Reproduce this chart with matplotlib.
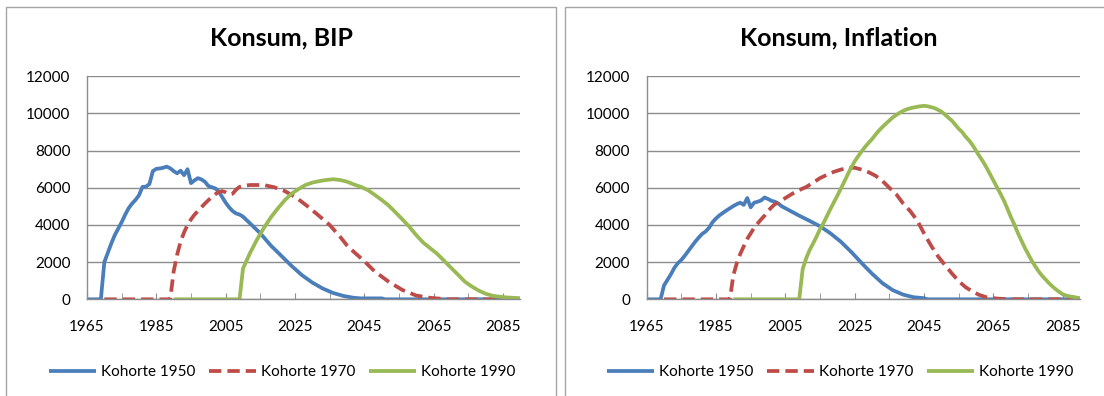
import matplotlib.pyplot as plt
from matplotlib.patches import Rectangle

# Data
# -- Konsum, BIP
bip_1950_years = [1965, 1969, 1970, 1971, 1972, 1973, 1974, 1975, 1976, 1977, 1978, 1979, 1980, 1981, 1982,
                  1983, 1984, 1985, 1986, 1987, 1988, 1989, 1990, 1991, 1992, 1993, 1994, 1995, 1996, 1997,
                  1998, 1999, 2000, 2001, 2002, 2003, 2004, 2005, 2006, 2007, 2008, 2009, 2010, 2012, 2015,
                  2018, 2021, 2024, 2027, 2030, 2033, 2036, 2039, 2042, 2044, 2050, 2051, 2090]
bip_1950 = [0, 0, 2000, 2500, 3000, 3450, 3800, 4150, 4550, 4900, 5150, 5350, 5600, 6050, 6060,
            6200, 6900, 7020, 7040, 7080, 7140, 7050, 6900, 6780, 6920, 6680, 7000, 6250, 6400, 6520,
            6450, 6330, 6100, 6030, 5970, 5800, 5500, 5200, 4950, 4750, 4620, 4560, 4450, 4090, 3550,
            2900, 2350, 1800, 1300, 900, 580, 340, 180, 80, 50, 50, 0, 0]

bip_1970_years = [1970, 1989, 1990, 1991, 1992, 1993, 1994, 1995, 1996, 1997, 1998, 1999, 2000, 2001, 2002,
                  2003, 2004, 2005, 2006, 2007, 2008, 2009, 2010, 2012, 2016, 2019, 2022, 2024, 2026, 2029,
                  2032, 2035, 2038, 2040, 2042, 2045, 2048, 2052, 2056, 2060, 2064, 2069, 2090]
bip_1970 = [0, 0, 1500, 2400, 3100, 3600, 4000, 4300, 4550, 4750, 4950, 5150, 5330, 5500, 5650,
            5780, 5820, 5760, 5650, 5680, 5900, 6050, 6100, 6150, 6150, 6030, 5830, 5620, 5380, 4950,
            4480, 4000, 3370, 2900, 2550, 2050, 1500, 950, 500, 200, 80, 0, 0]

bip_1990_years = [1990, 2009, 2010, 2012, 2014, 2016, 2018, 2020, 2022, 2024, 2026, 2028, 2030, 2032, 2034,
                  2036, 2038, 2040, 2042, 2044, 2046, 2048, 2050, 2052, 2054, 2056, 2058, 2060, 2062, 2064,
                  2066, 2068, 2070, 2072, 2074, 2076, 2078, 2080, 2082, 2084, 2086, 2088, 2090]
bip_1990 = [0, 0, 1650, 2480, 3200, 3830, 4400, 4880, 5320, 5680, 5930, 6150, 6280, 6360, 6420,
            6460, 6420, 6330, 6180, 6050, 5880, 5620, 5350, 5050, 4680, 4300, 3900, 3450, 3050, 2750,
            2450, 2080, 1700, 1330, 950, 690, 470, 300, 190, 140, 100, 80, 60]

# -- Konsum, Inflation
inf_1950_years = [1965, 1969, 1970, 1971, 1972, 1973, 1974, 1975, 1976, 1977, 1978, 1979, 1980, 1981, 1982,
                  1983, 1984, 1985, 1986, 1987, 1988, 1989, 1990, 1991, 1992, 1993, 1994, 1995, 1996, 1997,
                  1998, 1999, 2000, 2001, 2002, 2003, 2004, 2006, 2009, 2012, 2015, 2018, 2021, 2024, 2027,
                  2030, 2033, 2036, 2039, 2042, 2045, 2046, 2090]
inf_1950 = [0, 0, 750, 1050, 1350, 1700, 1950, 2120, 2350, 2600, 2850, 3100, 3320, 3520, 3650,
            3850, 4150, 4350, 4520, 4650, 4780, 4900, 5020, 5120, 5200, 5080, 5450, 4950, 5200, 5250,
            5320, 5480, 5400, 5300, 5250, 5150, 5000, 4800, 4500, 4220, 3930, 3550, 3100, 2550, 1950,
            1380, 870, 490, 250, 110, 60, 0, 0]

inf_1970_years = [1970, 1989, 1990, 1991, 1992, 1993, 1994, 1995, 1996, 1997, 1998, 1999, 2000, 2001, 2002,
                  2003, 2005, 2007, 2009, 2011, 2013, 2015, 2017, 2019, 2021, 2023, 2025, 2027, 2029, 2031,
                  2033, 2035, 2037, 2039, 2041, 2043, 2045, 2047, 2049, 2051, 2053, 2055, 2057, 2059, 2061,
                  2063, 2066, 2070, 2090]
inf_1970 = [0, 0, 1300, 1950, 2450, 2850, 3250, 3550, 3850, 4080, 4300, 4500, 4750, 4950, 5120,
            5200, 5450, 5680, 5880, 6040, 6280, 6520, 6700, 6860, 6980, 7060, 7080, 6980, 6840, 6650,
            6370, 6000, 5650, 5150, 4750, 4250, 3550, 2900, 2320, 1850, 1400, 980, 650, 420, 230,
            110, 40, 0, 0]

inf_1990_years = [1990, 2009, 2010, 2011, 2012, 2013, 2014, 2015, 2016, 2017, 2018, 2019, 2020, 2021, 2022,
                  2023, 2024, 2025, 2026, 2027, 2028, 2029, 2030, 2031, 2032, 2033, 2034, 2035, 2036, 2037,
                  2038, 2039, 2040, 2041, 2042, 2043, 2044, 2045, 2046, 2047, 2048, 2049, 2050, 2051, 2052,
                  2053, 2054, 2055, 2056, 2057, 2058, 2059, 2060, 2061, 2062, 2063, 2064, 2065, 2066, 2067,
                  2068, 2069, 2070, 2071, 2072, 2073, 2074, 2075, 2076, 2077, 2078, 2079, 2080, 2081, 2082,
                  2083, 2084, 2085, 2086, 2087, 2088, 2089, 2090]
inf_1990 = [0, 0, 1630, 2200, 2650, 3000, 3370, 3780, 4100, 4480, 4860, 5220, 5580, 5950, 6330,
            6720, 7100, 7420, 7700, 7960, 8200, 8420, 8620, 8860, 9080, 9270, 9450, 9620, 9790, 9920,
            10040, 10140, 10220, 10280, 10320, 10360, 10390, 10410, 10390, 10340, 10290, 10200, 10100, 9950, 9780,
            9620, 9400, 9180, 9000, 8750, 8550, 8300, 8000, 7700, 7420, 7100, 6750, 6400, 6050, 5700,
            5330, 4900, 4450, 4050, 3600, 3200, 2800, 2450, 2100, 1800, 1520, 1280, 1080, 880, 700,
            540, 400, 270, 200, 160, 130, 90, 60]

labels = ["Kohorte 1950", "Kohorte 1970", "Kohorte 1990"]
colors = ["#4A7EBB", "#BE4B48", "#98B954"]

panels = [
    ("Konsum, BIP", [(bip_1950_years, bip_1950), (bip_1970_years, bip_1970), (bip_1990_years, bip_1990)]),
    ("Konsum, Inflation", [(inf_1950_years, inf_1950), (inf_1970_years, inf_1970), (inf_1990_years, inf_1990)]),
]

plt.rcParams['font.family'] = ['Lato', 'DejaVu Sans']

W, H = 1104, 396
fig = plt.figure(figsize=(W / 100, H / 100), dpi=100)

# panel boxes (x0, x1 in px), plot left edge, title centre, legend centre
layout = [(6, 556, 87, 281, 282), (565, 1120, 646.7, 839, 840)]

for (title, series), (bx0, bx1, ax_left, title_x, leg_x) in zip(panels, layout):
    fig.add_artist(Rectangle((bx0 / W, -0.1), (bx1 - bx0) / W, (H - 7) / H + 0.1,
                             transform=fig.transFigure, fill=False, ec='#a6a6a6', lw=1))
    ax = fig.add_axes([ax_left / W, (H - 299.3) / H, 433.3 / W, 223 / H])

    for (yrs, vals), c, lab in zip(series, colors, labels):
        if lab == "Kohorte 1970":
            ax.plot(yrs, vals, color=c, lw=2.7, label=lab, dashes=(3.3, 1.6), dash_capstyle='butt')
        else:
            ax.plot(yrs, vals, color=c, lw=2.7, label=lab, solid_capstyle='butt')

    ax.set_xlim(1965, 2090)
    ax.set_ylim(0, 12000)
    ax.set_yticks(range(0, 12001, 2000))
    ax.set_xticks(range(1965, 2086, 20))
    ax.set_xticks(range(1975, 2086, 20), minor=True)
    ax.grid(axis='y', color='#8c8c8c', lw=1)
    ax.set_axisbelow(True)
    for s in ['top', 'right']:
        ax.spines[s].set_visible(False)
    for s in ['left', 'bottom']:
        ax.spines[s].set_color('#8c8c8c')
        ax.spines[s].set_linewidth(1)
    ax.tick_params(axis='y', length=0, pad=12, labelsize=11)
    ax.tick_params(axis='x', which='both', direction='in', length=4, color='#8c8c8c', pad=15, labelsize=11)

    fig.text(title_x / W, 1 - 38 / H, title, ha='center', va='center', fontsize=18, fontweight='bold')
    ax.legend(loc='center', bbox_to_anchor=(leg_x / W, 1 - 372 / H), bbox_transform=fig.transFigure,
              ncol=3, frameon=False, fontsize=11, handlelength=3.1, handletextpad=0.3, columnspacing=0.9)

plt.savefig("out.png", dpi=100)
